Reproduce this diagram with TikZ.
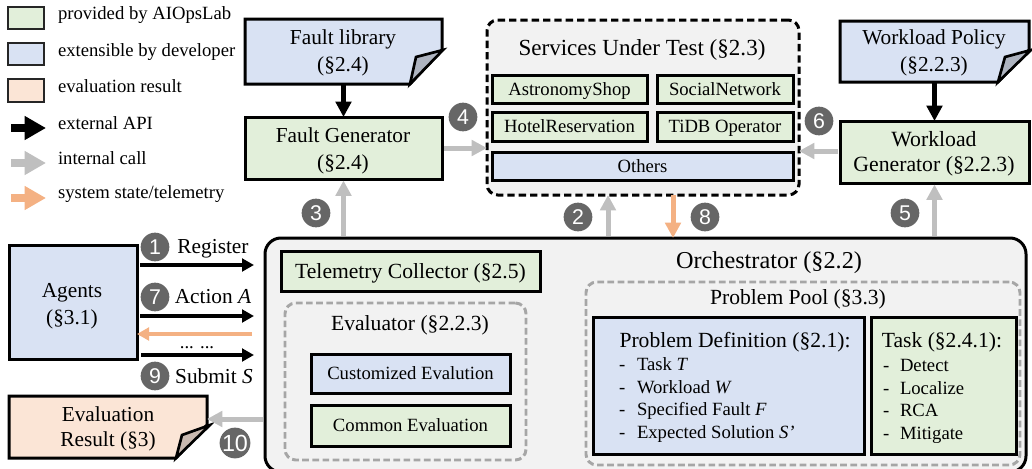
\documentclass[tikz,border=0pt]{standalone}
\usepackage{fontspec}
\setmainfont{Liberation Serif}
\newfontfamily\badgefont{Liberation Sans}
\usetikzlibrary{arrows.meta,calc}
\definecolor{cgreen}{HTML}{E2EFDA}
\definecolor{cblue}{HTML}{D9E2F3}
\definecolor{cpeach}{HTML}{FBE5D6}
\definecolor{cgray}{HTML}{F2F2F2}
\definecolor{corange}{HTML}{F4B183}
\definecolor{carrow}{HTML}{BFBFBF}
\definecolor{cbadge}{HTML}{666666}
\definecolor{cfold}{HTML}{AEB4C0}
\definecolor{cfoldp}{HTML}{C9B9B0}
\definecolor{cframe}{HTML}{A6A6A6}
% \bx[style]{name}{x1}{y1}{x2}{y2}{text}: a box given by its corners in pixels
\newcommand{\bx}[7][]{\node[#1,minimum width={(#5-#3)*0.75pt},minimum height={(#6-#4)*0.75pt}] (#2) at ({(#3+#5)/2},{(#4+#6)/2}) {#7};}
\begin{document}
\begin{tikzpicture}[x=0.75pt,y=-0.75pt,
  every node/.style={align=center,inner sep=0pt,outer sep=0pt,text=black},
  solidbox/.style={draw=black,line width=2.25pt},
  gbox/.style={solidbox,fill=cgreen},
  bbox/.style={solidbox,fill=cblue},
  pbox/.style={solidbox,fill=cpeach},
  legbox/.style={draw=black!85,line width=1.1pt},
  lab/.style={anchor=base west,font=\fontsize{14}{16}\selectfont},
  big/.style={font=\fontsize{16}{20.2}\selectfont},
  bigl/.style={font=\fontsize{16.2}{20}\selectfont,anchor=base},
  boxbig/.style={font=\fontsize{16.2}{20}\selectfont,text height=11.5pt,text depth=0pt},
  small/.style={font=\fontsize{14}{16}\selectfont,text height=9.5pt,text depth=0pt},
  huge/.style={anchor=base},
  listtxt/.style={anchor=base west,font=\fontsize{14}{17}\selectfont},
  armlab/.style={anchor=base,font=\fontsize{16}{18}\selectfont},
  extl/.style={-{Triangle[length=16pt,width=17pt]},line width=5.5pt,black},
  intl/.style={-{Triangle[length=16pt,width=17pt]},line width=5.5pt,carrow},
  stal/.style={-{Triangle[length=16pt,width=17pt]},line width=5.5pt,corange},
  extb/.style={-{Triangle[length=11.5pt,width=11.5pt]},line width=4.2pt,black},
  intb/.style={-{Triangle[length=11.5pt,width=11.5pt]},line width=3.75pt,carrow},
  stab/.style={-{Triangle[length=11.5pt,width=11.5pt]},line width=3.75pt,corange},
  ext/.style={-{Triangle[length=9pt,width=9.5pt]},line width=2.8pt,black},
  stat/.style={-{Triangle[length=9pt,width=9.5pt]},line width=2.8pt,corange},
  badge/.style={circle,fill=cbadge,text=white,minimum size=21.5pt,font=\badgefont\fontsize{16}{16}\selectfont},
  graydash/.style={draw=cframe,line width=2.2pt,dash pattern=on 5pt off 2.6pt,rounded corners=8pt},
]
\useasboundingbox (0,0) rectangle (1032,468);
% legend
\bx[legbox,fill=cgreen]{lg}{8}{7}{44}{29}{}
\bx[legbox,fill=cblue]{lb}{8}{43}{44}{65}{}
\bx[legbox,fill=cpeach]{lp}{8}{79}{44}{102}{}
\node[lab] (t1) at (58,19) {provided by AIOpsLab};
\node[lab] (t2) at (58,56) {extensible by developer};
\node[lab] (t3) at (58,92) {evaluation result};
\node[lab] (t4) at (58,129) {external API};
\node[lab] (t5) at (58,164) {internal call};
\node[lab] (t6) at (58,198) {system state/telemetry};
\coordinate (a1) at (11,128); \coordinate (a2) at (46,128);
\coordinate (b1) at (11,163); \coordinate (b2) at (46,163);
\coordinate (c1) at (11,198); \coordinate (c2) at (46,198);
\draw[extl] (a1)--(a2); \draw[intl] (b1)--(b2); \draw[stal] (c1)--(c2);
% Fault library + generator
\draw[bbox,line join=miter] (245,19) -- (442,19) -- (442,50) -- (410,84) -- (245,84) -- cycle;
\draw[line width=2pt,fill=cfold] (443,50) -- (416,57) -- (410,84) -- cycle;
\bx{fl}{245}{19}{442}{84}{}
\node[big] (fltxt) at (343,53) {Fault library\\(§2.4)};
\bx[gbox]{fg}{245}{117}{442}{179}{}
\node[big] (fgtxt) at (343,151) {Fault Generator\\(§2.4)};
% Workload policy + generator
\draw[bbox,line join=miter] (840,21) -- (1029,21) -- (1029,50) -- (998,82) -- (840,82) -- cycle;
\draw[line width=2pt,fill=cfold] (1031,50) -- (1005,57) -- (998,82) -- cycle;
\bx{wp}{840}{21}{1029}{82}{}
\node[big] (wptxt) at (934,53) {Workload Policy\\(§2.2.3)};
\bx[gbox]{wg}{840}{121}{1029}{183}{}
\node[font=\fontsize{16.3}{18.8}\selectfont] (wgtxt) at (934,154) {Workload\\Generator (§2.2.3)};
% Services under test
\bx[draw=black,fill=cgray,line width=2.25pt,dash pattern=on 5.5pt off 3pt,rounded corners=8pt]{sut}{487}{20}{799}{195}{}
\node[huge,font=\fontsize{17.3}{20}\selectfont] (suttxt) at (642,55) {Services Under Test (§2.3)};
\bx[gbox,small]{s1}{492}{75}{647}{103}{AstronomyShop}
\bx[gbox,small]{s2}{657}{75}{793}{103}{SocialNetwork}
\bx[gbox,small]{s3}{492}{112}{647}{141}{HotelReservation}
\bx[gbox,small]{s4}{657}{112}{793}{141}{TiDB Operator}
\bx[bbox,small]{s5}{492}{152}{793}{180}{Others}
% Orchestrator
\bx[draw=black,fill=cgray,line width=2.25pt,rounded corners=12pt]{orc}{265}{238}{1026}{472}{}
\node[huge,font=\fontsize{18.2}{20}\selectfont] (orctxt) at (769,268) {Orchestrator (§2.2)};
\bx[gbox,boxbig]{tc}{281}{251}{540}{291}{Telemetry Collector (§2.5)}
\bx[graydash]{ev}{285}{303}{526}{460}{}
\node[bigl] (evtxt) at (410,330) {Evaluator (§2.2.3)};
\bx[bbox,small]{ce}{311}{354}{510}{393}{Customized Evalution}
\bx[gbox,small]{co}{311}{405}{510}{446}{Common Evaluation}
\bx[graydash]{pp}{586}{282}{1020}{465}{}
\node[bigl] (pptxt) at (798,304) {Problem Pool (§3.3)};
\bx[bbox]{pd}{593}{317}{864}{454}{}
\bx[gbox]{tk}{871}{317}{1016}{454}{}
\node[bigl] (pdh) at (735,347) {Problem Definition (§2.1):};
\node[listtxt] (pd1a) at (619,370) {-}; \node[listtxt] (pd1) at (637,370) {Task \textit{T}};
\node[listtxt] (pd2a) at (619,393) {-}; \node[listtxt] (pd2) at (637,393) {Workload \textit{W}};
\node[listtxt] (pd3a) at (619,415) {-}; \node[listtxt] (pd3) at (637,415) {Specified Fault \textit{F}};
\node[listtxt] (pd4a) at (619,438) {-}; \node[listtxt] (pd4) at (637,438) {Expected Solution \textit{S'}};
\node[bigl] (tkh) at (942,347) {Task (§2.4.1):};
\node[listtxt] (tk1a) at (883,371) {-}; \node[listtxt] (tk1) at (900,371) {Detect};
\node[listtxt] (tk2a) at (883,394) {-}; \node[listtxt] (tk2) at (900,394) {Localize};
\node[listtxt] (tk3a) at (883,416) {-}; \node[listtxt] (tk3) at (900,416) {RCA};
\node[listtxt] (tk4a) at (883,439) {-}; \node[listtxt] (tk4) at (900,439) {Mitigate};
% Agents and result
\bx[bbox]{ag}{9}{245}{137}{359}{}
\node[big] (agtxt) at (72,306) {Agents\\(§3.1)};
\draw[pbox,line join=miter] (9,396) -- (207,396) -- (207,425) -- (176,458) -- (9,458) -- cycle;
\draw[line width=2pt,fill=cfoldp] (210,425) -- (182,435) -- (176,458) -- cycle;
\bx{er}{9}{396}{207}{458}{}
\node[font=\fontsize{16}{18.8}\selectfont] (ertxt) at (108,429) {Evaluation\\Result (§3)};
% connectors
\draw[extb] (fl.south -| fg.north) -- (fg.north);
\draw[extb] (wp.south -| wg.north) -- (wg.north);
\draw[intb] ($(fg.south |- orc.north)+(0,-2)$) -- ($(fg.south)+(0,1.5)$);
\draw[intb] ($(fg.east |- 0,148)+(2,0)$) -- (sut.west |- 0,148);
\draw[intb] ($(wg.west |- 0,151)+(-2,0)$) -- (sut.east |- 0,151);
\draw[intb] ($(wg.south |- orc.north)+(0,-2)$) -- ($(wg.south)+(0,1.5)$);
\draw[intb] (orc.north -| 608,0) ++(0,-2) -- (sut.south -| 608,0);
\draw[stab] (sut.south -| 673,0) -- (orc.north -| 673,0);
\draw[ext] ($(ag.east |- 0,265)+(3,0)$) -- ($(orc.west |- 0,265)+(-11,0)$);
\draw[ext] ($(ag.east |- 0,316)+(3,0)$) -- ($(orc.west |- 0,316)+(-11,0)$);
\draw[stat] ($(orc.west |- 0,334)+(-13,0)$) -- (ag.east |- 0,334);
\draw[ext] ($(ag.east |- 0,355)+(4,0)$) -- ($(orc.west |- 0,355)+(-11,0)$);
\draw[intb] ($(orc.west |- 0,419)+(-2,0)$) -- (er.east |- 0,419);
% labels on arrows
\node[armlab] (rg) at (213,253) {Register};
\node[armlab] (ac) at (213,303) {Action \textit{A}};
\node[anchor=base,font=\fontsize{14}{16}\selectfont] (dd) at (197,348) {... ...};
\node[armlab] (sb) at (214,383) {Submit \textit{S}};
% badges
\node[badge] (n1) at (155,247) {1};
\node[badge] (n2) at (578,217) {2};
\node[badge] (n3) at (316,213) {3};
\node[badge] (n4) at (463,117) {4};
\node[badge] (n5) at (905,213) {5};
\node[badge] (n6) at (819,121) {6};
\node[badge] (n7) at (155,297) {7};
\node[badge] (n8) at (705,217) {8};
\node[badge] (n9) at (155,376) {9};
\node[badge,font=\badgefont\fontsize{17.5}{17}\selectfont] (n10) at (235,443) {10};
\end{tikzpicture}
\end{document}
